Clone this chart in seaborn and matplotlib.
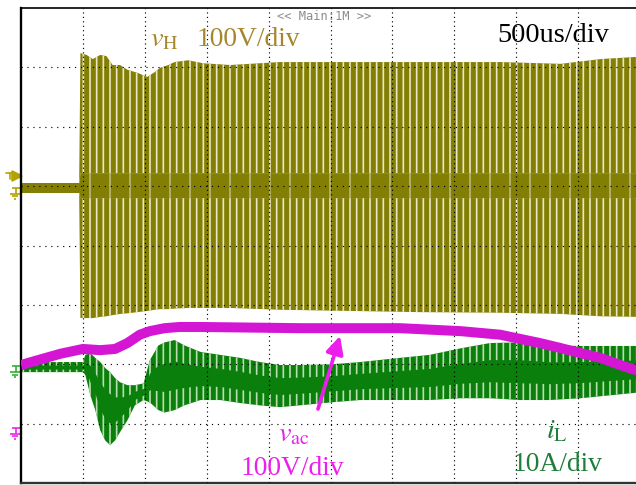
import numpy as np
import pandas as pd
import matplotlib
matplotlib.use("Agg")
import matplotlib.pyplot as plt
import matplotlib.transforms as mtransforms
import seaborn as sns

# ------------------------------------------------------------------
# Data (time in ms, 0.5 ms/div)
# ------------------------------------------------------------------
# v_H : switching voltage envelope (V), 100 V/div
vh_t = [0.00, 0.47, 0.48, 0.53, 0.58, 0.64, 0.69, 0.74, 0.80, 0.86, 0.94, 1.02, 1.08,
        1.12, 1.19, 1.24, 1.35, 1.47, 1.69, 2.09, 2.66, 3.22, 3.87, 4.36, 4.68, 5.00]
vh_top = [8, 8, 227, 224, 217, 224, 222, 207, 207, 199, 194, 187, 195,
          202, 207, 212, 215, 210, 207, 212, 212, 212, 212, 209, 217, 221]
vh_bot = [-8, -8, -219, -219, -219, -217, -216, -214, -212, -211, -209, -207, -205,
          -204, -204, -203, -202, -202, -202, -205, -207, -209, -210, -212, -216, -217]
vh_zero_band = [-17, 25]          # dense zero-level band of v_H (V)

# i_L : inductor current envelope (A), 10 A/div
il_t = [0.00, 0.50, 0.52, 0.56, 0.60, 0.64, 0.68, 0.72, 0.76, 0.80, 0.86, 0.92, 0.99,
        1.04, 1.11, 1.16, 1.24, 1.32, 1.45, 1.61, 1.77, 1.93, 2.09, 2.25, 2.50, 2.74,
        3.06, 3.30, 3.55, 3.79, 4.03, 4.27, 4.52, 4.76, 5.00]
il_top = [0.7, 0.7, 1.9, 2.2, 1.4, 0.7, -0.3, -1.0, -2.0, -2.7, -3.2, -3.2, -2.9,
          1.0, 3.5, 4.0, 4.4, 3.5, 2.4, 1.9, 1.4, 0.7, 0.2, 0.2, 0.3, 0.7,
          1.4, 1.9, 3.0, 3.9, 4.0, 3.5, 3.4, 3.4, 3.4]
il_bot = [-1.0, -1.0, -1.5, -4.9, -7.4, -10.8, -12.5, -13.3, -12.5, -11.1, -9.1, -6.6, -5.7,
          -6.1, -7.4, -7.8, -7.4, -6.6, -5.7, -5.7, -6.2, -6.6, -6.9, -6.6, -6.1, -5.7,
          -5.7, -5.7, -5.4, -5.4, -5.7, -5.7, -5.4, -4.9, -4.4]

# v_ac : grid voltage (V), 100 V/div
vac_t = [0.00, 0.15, 0.32, 0.50, 0.64, 0.76, 0.86, 0.96, 1.04, 1.16, 1.28, 1.45,
         2.25, 3.06, 3.55, 3.87, 4.03, 4.19, 4.35, 4.52, 4.68, 4.84, 5.00]
vac_v = [106, 115, 125, 133, 131, 133, 143, 157, 163, 168, 170, 170,
         168, 168, 163, 157, 150, 143, 135, 126, 118, 106, 95]

# channel settings: (ground offset in div, units per div)
VH_OFF, VH_SC = 0.97, 100.0
IL_OFF, IL_SC = -2.03, 10.0
VAC_OFF, VAC_SC = -3.07, 100.0

# ------------------------------------------------------------------
OLIVE, OLIVE_GAP = "#837f04", "#e9e7c6"
GREEN, GREEN_GAP = "#0b7f0b", "#b9ddb1"
MAG, MAG_TXT = "#d416d4", "#ec1eec"
VH_TXT, IL_TXT = "#a6872c", "#1f7f3a"

sns.set_theme(style="white")
plt.rcParams["font.family"] = ["Liberation Serif", "DejaVu Serif"]
plt.rcParams["mathtext.fontset"] = "stix"
plt.rcParams["hatch.linewidth"] = 1.0

DPI = 120
W, H = 636, 485
fig = plt.figure(figsize=(W / DPI, H / DPI), dpi=DPI, facecolor="white")
ax = fig.add_axes([21 / W, 1 - 483.2 / H, 619 / W, (483.2 - 8) / H])
ax.set_xlim(0, 5)
ax.set_ylim(-4, 4)
ax.set_facecolor("white")


def to_div(vals, off, sc):
    return off + np.asarray(vals, dtype=float) / sc


# ---- v_H ----
vh = pd.DataFrame({"t": vh_t, "top": vh_top, "bot": vh_bot})
vh["mid_hi"] = np.minimum(vh["top"], vh_zero_band[1])
vh["mid_lo"] = np.maximum(vh["bot"], vh_zero_band[0])
t = vh["t"].values
ax.fill_between(t, to_div(vh["mid_hi"], VH_OFF, VH_SC), to_div(vh["top"], VH_OFF, VH_SC),
                facecolor=OLIVE, edgecolor=OLIVE_GAP, hatch="|||", linewidth=0, zorder=1)
ax.fill_between(t, to_div(vh["bot"], VH_OFF, VH_SC), to_div(vh["mid_lo"], VH_OFF, VH_SC),
                facecolor=OLIVE, edgecolor=OLIVE_GAP, hatch="|||", linewidth=0, zorder=1)
ax.fill_between(t, to_div(vh["mid_lo"], VH_OFF, VH_SC), to_div(vh["mid_hi"], VH_OFF, VH_SC),
                facecolor=OLIVE, edgecolor="#b9b77a", hatch="|", linewidth=0, zorder=1.1)
# pre-switching flat band without gaps
pre = vh[vh["t"] <= 0.47]
ax.fill_between(pre["t"], to_div(pre["bot"], VH_OFF, VH_SC), to_div(pre["top"], VH_OFF, VH_SC),
                facecolor=OLIVE, linewidth=0, zorder=1.2)

# ---- i_L ----
il = pd.DataFrame({"t": il_t, "top": il_top, "bot": il_bot})
span = il["top"] - il["bot"]
il["mid_hi"] = il["top"] - 0.3 * span
il["mid_lo"] = il["bot"] + 0.3 * span
t = il["t"].values
ax.fill_between(t, to_div(il["bot"], IL_OFF, IL_SC), to_div(il["top"], IL_OFF, IL_SC),
                facecolor=GREEN, edgecolor=GREEN_GAP, hatch="|||", linewidth=0, zorder=1.5)
ax.fill_between(t, to_div(il["mid_lo"], IL_OFF, IL_SC), to_div(il["mid_hi"], IL_OFF, IL_SC),
                facecolor=GREEN, linewidth=0, zorder=1.6)

# ---- graticule (drawn over vH / iL, under vac) ----
for i in range(1, 10):
    ax.axvline(i * 0.5, color="black", lw=0.7, ls=(0, (1, 2.8)), zorder=3)
for j in range(-3, 4):
    ax.axhline(j, color="black", lw=0.7, ls=(0, (1, 4.1)), zorder=3)

# ---- v_ac ----
vac = pd.DataFrame({"t": vac_t, "v": to_div(vac_v, VAC_OFF, VAC_SC)})
sns.lineplot(data=vac, x="t", y="v", ax=ax, color=MAG, lw=6, zorder=4,
             solid_capstyle="butt")

ax.set_xlabel("")
ax.set_ylabel("")
ax.set_xticks([])
ax.set_yticks([])
ax.spines["right"].set_visible(False)
ax.spines["left"].set_color("black")
ax.spines["left"].set_linewidth(1.4)
ax.spines["top"].set_color("black")
ax.spines["top"].set_linewidth(1.0)
ax.spines["bottom"].set_color("#333333")
ax.spines["bottom"].set_linewidth(1.4)

# ---- channel ground markers on the left ----
tr = mtransforms.blended_transform_factory(fig.transFigure, ax.transData)
PX = 1 / 59.4


def ground(off, color):
    segs = [((12, 22), (0, 0)), ((15.5, 15.5), (0, 6)), ((10, 20), (6, 6)),
            ((12, 18), (8.5, 8.5)), ((14, 16), (11, 11))]
    for xs, ys in segs:
        ax.plot([x / W for x in xs], [off - y * PX for y in ys], transform=tr,
                color=color, lw=1.0, clip_on=False, solid_capstyle="butt")


ground(VH_OFF, "#b3a300")
ground(IL_OFF, "#33b033")
ground(VAC_OFF, "#ee22ee")
# trigger marker of channel 1
ax.plot([6 / W, 14 / W], [VH_OFF + 15 * PX] * 2, transform=tr, color="#b3a300", lw=1.0,
        clip_on=False)
ax.plot([10 / W, 10 / W], [VH_OFF + 15 * PX, VH_OFF + 9 * PX], transform=tr,
        color="#b3a300", lw=1.0, clip_on=False)
ax.plot([17 / W], [VH_OFF + 12 * PX], transform=tr, marker=">", ms=6, color="#b3a300",
        clip_on=False, lw=0)

# ---- texts ----
def ftxt(x, y, s, **kw):
    fig.text(x / W, 1 - y / H, s, **kw)


ftxt(277, 17, "<< Main:1M >>", family="DejaVu Sans Mono", fontsize=7.2,
     color="#8c8c8c", va="center", ha="left")
ftxt(150, 46, r"$v_{\mathrm{H}}$", fontsize=17, color=VH_TXT, va="baseline")
ftxt(197, 46, "100V/div", fontsize=16.5, color=VH_TXT, va="baseline")
ftxt(497, 42, "500us/div", fontsize=17, color="black", va="baseline")
ftxt(278, 441, r"$v_{\mathrm{ac}}$", fontsize=17, color=MAG_TXT, va="baseline")
ftxt(241, 475, "100V/div", fontsize=16.5, color=MAG_TXT, va="baseline")
ftxt(546, 438, r"$i_{\mathrm{L}}$", fontsize=17, color=IL_TXT, va="baseline")
ftxt(513, 471, "10A/div", fontsize=16.5, color=IL_TXT, va="baseline")

ax.annotate("", xy=(340 / W, 1 - 336 / H), xytext=(318 / W, 1 - 409 / H),
            xycoords="figure fraction", textcoords="figure fraction",
            arrowprops=dict(arrowstyle="-|>", color=MAG_TXT, lw=2.2,
                            mutation_scale=22, shrinkA=0, shrinkB=0), zorder=6)

fig.savefig("out.png", dpi=DPI, facecolor="white")
